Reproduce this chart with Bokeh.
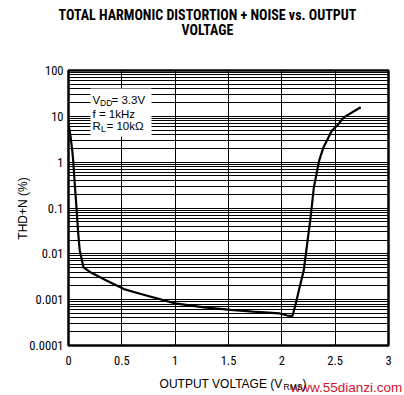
from bokeh.plotting import figure
from bokeh.models import (FixedTicker, CustomJSTickFormatter, Label, BoxAnnotation,
                          ColumnDataSource, Range1d)
from bokeh.embed import file_html
from bokeh.resources import INLINE
import math

# ---- data ----
vout = [0.0, 0.02, 0.035, 0.045, 0.06, 0.075, 0.09, 0.105, 0.14, 0.21, 0.36, 0.52,
        0.67, 1.0, 1.27, 1.52, 1.73, 1.98, 2.05, 2.10, 2.13, 2.16, 2.205, 2.27,
        2.30, 2.35, 2.39, 2.47, 2.52, 2.58, 2.74]
thdn = [7.0, 3.5, 1.8, 1.0, 0.3, 0.1, 0.03, 0.012, 0.0051, 0.0039, 0.0026, 0.0017,
        0.00135, 0.00083, 0.00068, 0.0006, 0.00055, 0.0005, 0.00045, 0.00044, 0.0008,
        0.0016, 0.0043, 0.063, 0.28, 1.08, 2.1, 4.9, 6.3, 9.5, 15.8]

x_ticks = [0, 0.5, 1, 1.5, 2, 2.5, 3]
y_ticks = [0.0001, 0.001, 0.01, 0.1, 1, 10, 100]
y_minor = [m * d for d in [0.0001, 0.001, 0.01, 0.1, 1, 10] for m in range(2, 10)]

title_lines = ["TOTAL HARMONIC DISTORTION + NOISE vs. OUTPUT", "VOLTAGE"]
x_title = ["OUTPUT VOLTAGE (V", "RMS", ")"]
y_title = "THD+N (%)"
conditions = [("V", "DD", "= 3.3V"), ("f = 1kHz", "", ""), ("R", "L", "= 10k\u03a9")]
watermark = "www.55dianzi.com"

NARROW = "Roboto Condensed"
SANS = "Liberation Sans"

# frame in page pixels
FL, FR, FT, FB = 68, 388, 70, 345

p = figure(width=404, height=395, output_backend="svg", toolbar_location=None,
           y_axis_type="log", x_range=Range1d(0, 3), y_range=Range1d(0.0001, 100),
           min_border_left=FL, min_border_right=404 - FR, min_border_top=FT,
           min_border_bottom=395 - FB)
p.background_fill_color = "white"
p.border_fill_color = "white"
p.outline_line_color = "black"
p.outline_line_width = 2.5

# axes
p.xaxis.ticker = FixedTicker(ticks=x_ticks)
p.yaxis.ticker = FixedTicker(ticks=y_ticks, minor_ticks=y_minor)
p.yaxis.formatter = CustomJSTickFormatter(code="return String(Number(tick.toPrecision(1)));")
p.xaxis.formatter = CustomJSTickFormatter(code="return String(tick);")
for ax in (p.xaxis, p.yaxis):
    ax.axis_line_color = None
    ax.major_tick_line_color = None
    ax.minor_tick_line_color = None
    ax.major_tick_out = 0
    ax.major_tick_in = 0
    ax.minor_tick_out = 0
    ax.minor_tick_in = 0
    ax.major_label_text_font = NARROW
    ax.major_label_text_font_size = "12.5px"
    ax.major_label_text_color = "black"
p.xaxis.major_label_standoff = 10
p.yaxis.major_label_standoff = 5

# grid
p.xgrid.ticker = FixedTicker(ticks=x_ticks)
p.xgrid.grid_line_color = "black"
p.xgrid.grid_line_width = 1
p.ygrid.ticker = FixedTicker(ticks=y_ticks, minor_ticks=y_minor)
p.ygrid.grid_line_color = "black"
p.ygrid.grid_line_width = 1
p.ygrid.minor_grid_line_color = "black"
p.ygrid.minor_grid_line_width = 1

# curve
src = ColumnDataSource(dict(x=vout, y=thdn))
p.line("x", "y", source=src, line_color="black", line_width=2.2)


def to_data(px, py):
    xd = (px - FL) * 3.0 / (FR - FL)
    yd = 10 ** (2 - (py - FT) * 6.0 / (FB - FT))
    return xd, yd


# condition box (white, covers the grid)
bl, bt = to_data(90, 88)
br, bb = to_data(151, 136)
p.add_layout(BoxAnnotation(left=bl, right=br, top=bt, bottom=bb,
                           fill_color="white", fill_alpha=1.0, line_color=None,
                           level="overlay"))


def lab(text, x, y, size, font=SANS, style="normal", align="left",
        baseline="alphabetic", color="black", angle=0.0, place=None):
    xd, yd = to_data(x, y)
    lbl = Label(x=xd, y=yd, text=text, text_font=font, text_font_size=size,
                text_font_style=style, text_align=align, text_baseline=baseline,
                text_color=color, angle=angle)
    if place is None:
        lbl.level = "overlay"
        p.add_layout(lbl)
    else:
        p.add_layout(lbl, place)


# conditions text
lab(conditions[0][0], 92, 99.5, "11.5px")
lab(conditions[0][1], 99.5, 102, "8.5px")
lab(conditions[0][2], 111, 99.5, "11.5px")
lab(conditions[1][0], 92, 113, "11.5px")
lab(conditions[2][0], 92, 125.5, "11.5px")
lab(conditions[2][1], 100.5, 128, "8.5px")
lab(conditions[2][2], 106, 125.5, "11.5px")

# title (labels in the top panel, positioned in data units)
lab(title_lines[0], 207, 14, "14px", font=NARROW, style="bold", align="center",
    baseline="middle", place="above")
lab(title_lines[1], 207, 29, "14px", font=NARROW, style="bold", align="center",
    baseline="middle", place="above")

# axis titles
lab(y_title, 22, 208, "12px", align="center", baseline="middle",
    angle=math.pi / 2, place="left")
lab(x_title[0], 282, 383, "12px", align="right", place="above")
lab(x_title[1], 283, 386, "8.5px", place="below")
lab(x_title[2], 302, 383, "12px", place="left")

# watermark
lab(watermark, 290, 387, "13.5px", color="#d4142a", place="above")

open("out.html", "w").write(file_html(p, INLINE))
